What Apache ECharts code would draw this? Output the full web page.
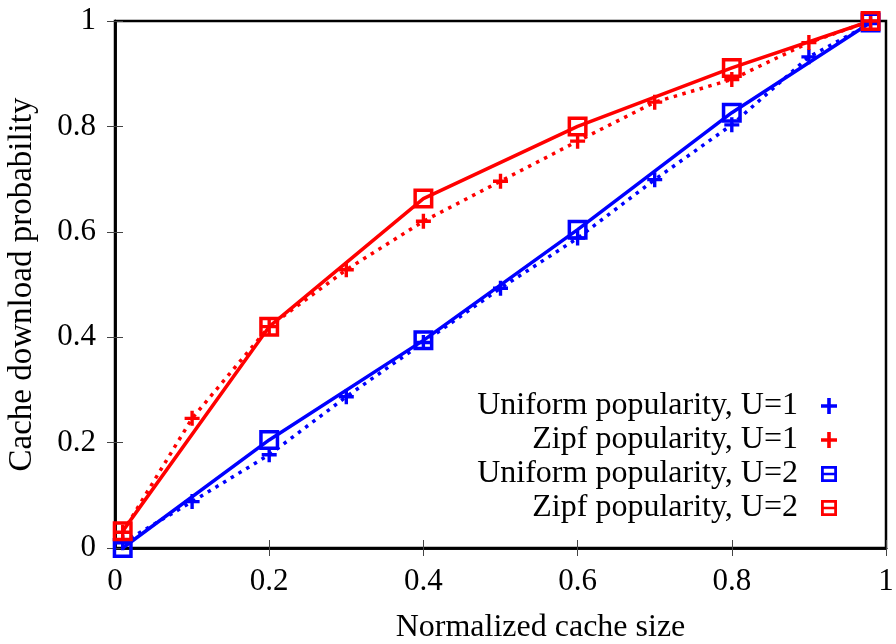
<!DOCTYPE html>
<html>
<head>
<meta charset="utf-8">
<script src="https://cdn.jsdelivr.net/npm/echarts@6/dist/echarts.min.js"></script>
<style>
  html, body { margin: 0; padding: 0; background: #fff; }
  #container { width: 896px; height: 644px; }
</style>
</head>
<body>
<div id="container"></div>
<script>
// x positions (normalized cache size)
const xU1 = [0.01, 0.1, 0.2, 0.3, 0.4, 0.5, 0.6, 0.7, 0.8, 0.9, 0.98];
const xU2 = [0.01, 0.2, 0.4, 0.6, 0.8, 0.98];
// cache download probability
const uniformU1 = [0.01, 0.088, 0.177, 0.287, 0.39, 0.493, 0.588, 0.699, 0.803, 0.932, 0.995];
const zipfU1 = [0.03, 0.246, 0.42, 0.528, 0.62, 0.696, 0.772, 0.846, 0.889, 0.959, 1.0];
const uniformU2 = [0.0, 0.205, 0.394, 0.604, 0.826, 0.997];
const zipfU2 = [0.032, 0.42, 0.663, 0.8, 0.911, 1.0];
const names = [
  'Uniform popularity, U=1',
  'Zipf popularity, U=1',
  'Uniform popularity, U=2',
  'Zipf popularity, U=2',
];

const FONT = 'Liberation Serif';
const BLUE = '#0000ff';
const RED = '#ff0000';
const plus = 'path://M6,0H9.5V6H15.5V9.5H9.5V15.5H6V9.5H0V6H6Z';
const square = 'path://M0,0H20V20H0Z M3.5,3.5V16.5H16.5V3.5Z';
const squareKey = 'path://M0,0H20V20H0Z M3.5,3.5V8.3H16.5V3.5Z M3.5,11.7V16.5H16.5V11.7Z';

const pairs = (xs, ys) => xs.map((x, i) => [x, ys[i]]);

var graph = echarts.init(document.getElementById('container'));

const tickAxis = {
  min: 0,
  max: 1,
  interval: 0.2,
  axisLine: { show: true, lineStyle: { color: '#000', width: 2.5 } },
  axisTick: { show: true, inside: true, length: 8, lineStyle: { color: '#444', width: 1 } },
  splitLine: { show: false },
};

function line(name, data, color, dotted, symbol, size) {
  return {
    name: name,
    type: 'line',
    data: data,
    clip: false,
    symbol: symbol,
    symbolSize: size,
    showAllSymbol: true,
    color: color,
    itemStyle: { color: color },
    lineStyle: {
      color: color,
      width: 3.5,
      type: dotted ? [3.5, 5.5] : 'solid',
      cap: 'butt',
    },
    animation: false,
  };
}

option = {
  animation: false,
  grid: {
    left: 115, right: 10, top: 21, bottom: 96,
    outerBoundsMode: 'none',
    containLabel: false,
    show: true, borderColor: '#000', borderWidth: 2.5,
  },
  xAxis: [
    Object.assign({}, tickAxis, {
      type: 'value',
      position: 'bottom',
      name: 'Normalized cache size',
      nameLocation: 'middle',
      nameGap: 64,
      nameTextStyle: { fontFamily: FONT, fontSize: 32, color: '#000', padding: [0, 0, 0, 80] },
      axisLabel: {
        margin: 18,
        fontFamily: FONT,
        fontSize: 31,
        color: '#000',
        formatter: (v) => String(+v.toFixed(1)),
      },
    }),
    Object.assign({}, tickAxis, { type: 'value', position: 'top', axisLabel: { show: false } }),
  ],
  yAxis: [
    Object.assign({}, tickAxis, {
      type: 'value',
      position: 'left',
      name: 'Cache download probability',
      nameLocation: 'middle',
      nameGap: 76,
      nameTextStyle: { fontFamily: FONT, fontSize: 33, color: '#000' },
      axisLabel: {
        margin: 19,
        fontFamily: FONT,
        fontSize: 31,
        color: '#000',
        formatter: (v) => String(+v.toFixed(1)),
      },
    }),
    Object.assign({}, tickAxis, { type: 'value', position: 'right', axisLabel: { show: false } }),
  ],
  legend: {
    orient: 'vertical',
    right: 59,
    top: 390,
    padding: 0,
    align: 'right',
    itemWidth: 52,
    itemHeight: 16,
    itemGap: 2,
    selectedMode: false,
    textStyle: { fontFamily: FONT, fontSize: 32, color: '#000', lineHeight: 30 },
    data: [
      { name: names[0], icon: plus },
      { name: names[1], icon: plus },
      { name: names[2], icon: squareKey },
      { name: names[3], icon: squareKey },
    ],
  },
  series: [
    line(names[0], pairs(xU1, uniformU1), BLUE, true, plus, 15),
    line(names[1], pairs(xU1, zipfU1), RED, true, plus, 15),
    line(names[2], pairs(xU2, uniformU2), BLUE, false, square, 20),
    line(names[3], pairs(xU2, zipfU2), RED, false, square, 20),
  ],
};

graph.setOption(option);
</script>
</body>
</html>
